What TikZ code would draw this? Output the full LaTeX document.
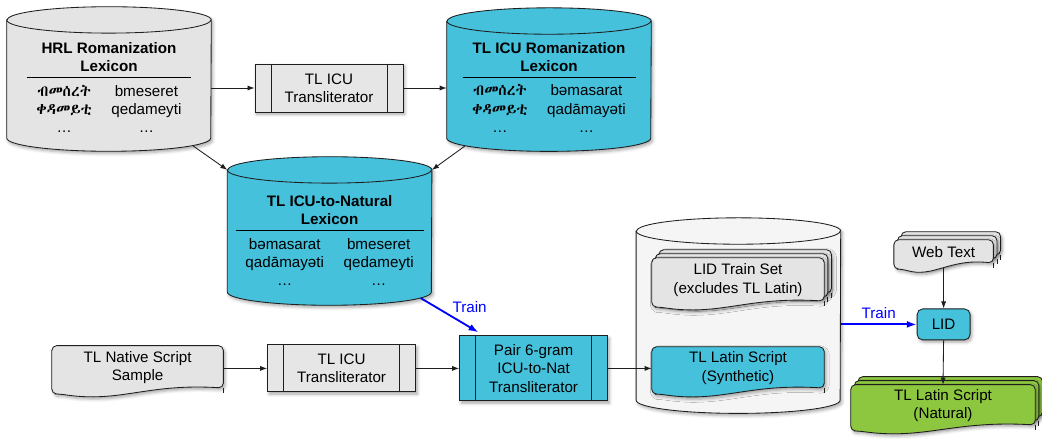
\documentclass[tikz,border=0pt]{standalone}
\usepackage{fontspec}
\setmainfont{Liberation Sans}
\IfFontExistsTF{Abyssinica SIL}{\newfontfamily\ethfont{Abyssinica SIL}}{%
  \IfFontExistsTF{FreeSerif}{\newfontfamily\ethfont{FreeSerif}}{\newfontfamily\ethfont{DejaVu Sans}}}
\usepackage{tikz}
\usetikzlibrary{arrows.meta,positioning,calc,backgrounds,shadows.blur}
\usepackage{xcolor}
\definecolor{icublue}{RGB}{70,193,220}
\definecolor{lexgray}{RGB}{228,228,228}
\definecolor{boxgray}{RGB}{230,230,230}
\definecolor{storegray}{RGB}{245,245,245}
\definecolor{natgreen}{RGB}{141,198,63}
\definecolor{linec}{RGB}{30,30,30}
\definecolor{trainblue}{RGB}{0,0,255}
\setlength{\tabcolsep}{7pt}
\tikzset{softshadow/.style={blur shadow={shadow xshift=1.2pt, shadow yshift=-1.6pt, shadow blur radius=2.2pt, shadow opacity=35}}}

% cylinder drawn round an empty node of width 5.1cm
\newcommand{\lexcyl}[2]{%
  \path[draw=linec, fill=#2, line width=0.6pt, softshadow]
    ([yshift=-3.3mm]#1.north west) -- ([yshift=3.3mm]#1.south west)
    arc[start angle=180, end angle=360, x radius=25.5mm, y radius=3.3mm]
    -- ([yshift=-3.3mm]#1.north east)
    arc[start angle=0, end angle=180, x radius=25.5mm, y radius=3.3mm] -- cycle;
  \draw[linec, line width=0.6pt] ([yshift=-3.3mm]#1.north west)
    arc[start angle=180, end angle=360, x radius=25.5mm, y radius=3.3mm];}

% document sheet with a wavy bottom, shifted by (#3,#4)
\newcommand{\docsheet}[4]{%
  \path[draw=linec, fill=#2, line width=0.6pt, softshadow, rounded corners=3.5pt]
    ([shift={(#3,#4+0.03)}]#1.south east)
    .. controls ($(#1.south east)!.45!(#1.south west)+(#3,#4+0.15)$)
       and ($(#1.south east)!.6!(#1.south west)+(#3,#4-0.35)$)
    .. ([shift={(#3+0.2,#4-0.12)}]#1.south west)
    -- ([shift={(#3,#4-0.12)}]#1.south west) -- ([shift={(#3,#4)}]#1.north west)
    -- ([shift={(#3,#4)}]#1.north east) -- cycle;
  \draw[linec, line width=0.6pt] ([shift={(#3,#4+0.03)}]#1.south east) -- ++(0,-0.13);}
\newcommand{\docstack}[2]{\docsheet{#1}{#2}{0.18}{0.2}\docsheet{#1}{#2}{0.09}{0.1}\docsheet{#1}{#2}{0}{0}}

\begin{document}
\begin{tikzpicture}[every node/.style={font=\fontsize{10.8}{13}\selectfont, text=black},
  cylspot/.style={minimum width=5.1cm, inner sep=0pt},
  docspot/.style={inner sep=0pt, align=center},
  procbox/.style={draw=linec, line width=0.6pt, fill=boxgray, align=center, inner sep=0pt,
    minimum width=3.7cm, minimum height=1.2cm, softshadow,
    path picture={\draw[linec, line width=0.6pt]
      ([xshift=4mm]path picture bounding box.north west) -- ([xshift=4mm]path picture bounding box.south west)
      ([xshift=-4mm]path picture bounding box.north east) -- ([xshift=-4mm]path picture bounding box.south east);}},
  conn/.style={draw=linec, line width=0.6pt, -{Latex[length=5pt, width=3.6pt]}},
  trainarrow/.style={draw=trainblue, line width=1.3pt, -{Latex[length=7pt, width=5pt]}}]
  \useasboundingbox (0,0) rectangle (26.05,-10.975);

  \node[cylspot, minimum height=3.6cm] (hrl) at (2.725,-1.975) {};
  \node[inner sep=0pt] (hrl-tab) at ([yshift=-2.6mm]hrl.center) {\begin{tabular}{cc}
    \multicolumn{2}{c}{\bfseries HRL Romanization}\\
    \multicolumn{2}{c}{\bfseries Lexicon}\\\hline
    \rule{0pt}{13pt}{\ethfont ብመሰረት} & bmeseret\\
    {\ethfont ቀዳመይቲ} & qedameyti\\
    \dots & \dots
  \end{tabular}};
  \node[procbox] (ticu1) at (8.225,-2.2) {TL ICU\\Transliterator};
  \node[cylspot, minimum height=3.575cm] (icurom) at (13.725,-1.99) {};
  \node[inner sep=0pt] (icurom-tab) at ([yshift=-2.4mm]icurom.center) {\begin{tabular}{cc}
    \multicolumn{2}{c}{\bfseries TL ICU Romanization}\\
    \multicolumn{2}{c}{\bfseries Lexicon}\\\hline
    \rule{0pt}{13pt}{\ethfont ብመሰረት} & bəmasarat\\
    {\ethfont ቀዳመይቲ} & qadāmayəti\\
    \dots & \dots
  \end{tabular}};
  \node[cylspot, minimum height=3.7cm] (icnat) at (8.24,-5.775) {};
  \node[inner sep=0pt] (icnat-tab) at ([yshift=-2.9mm]icnat.center) {\begin{tabular}{cc}
    \multicolumn{2}{c}{\bfseries TL ICU-to-Natural}\\
    \multicolumn{2}{c}{\bfseries Lexicon}\\\hline
    \rule{0pt}{13pt}bəmasarat & bmeseret\\
    qadāmayəti & qedameyti\\
    \dots & \dots
  \end{tabular}};

  \node[docspot, minimum width=4.275cm, minimum height=1.075cm] (sample) at (3.44,-9.185) {TL Native Script\\Sample};
  \node[procbox, minimum height=1.175cm] (ticu2) at (8.54,-9.21) {TL ICU\\Transliterator};
  \node[procbox, fill=icublue, minimum height=1.625cm] (pair) at (13.34,-9.21) {Pair 6-gram\\ICU-to-Nat\\Transliterator};

  \node[cylspot, minimum height=4.875cm] (store) at (18.46,-7.89) {};
  \node[docspot, minimum width=4.3cm, minimum height=1.1cm] (lidset) at (18.45,-7.0) {LID Train Set\\(excludes TL Latin)};
  \node[docspot, minimum width=4.3cm, minimum height=1.05cm] (synth) at (18.45,-9.2) {TL Latin Script\\(Synthetic)};

  \node[docspot, minimum width=2.475cm, minimum height=0.6cm] (web) at (23.59,-6.3) {Web Text};
  \node[draw=linec, line width=0.6pt, fill=icublue, rounded corners=4pt, minimum width=1.325cm, minimum height=0.775cm, softshadow] (lid) at (23.59,-8.11) {LID};
  \node[docspot, minimum width=4.6cm, minimum height=1.025cm] (natural) at (23.575,-10.135) {TL Latin Script\\(Natural)};

  \begin{scope}[on background layer]
    \lexcyl{hrl}{lexgray}
    \lexcyl{icurom}{icublue}
    \lexcyl{icnat}{icublue}
    \lexcyl{store}{storegray}
    \docsheet{sample}{lexgray}{0}{0}
    \docstack{lidset}{lexgray}
    \docsheet{synth}{icublue}{0}{0}
    \docstack{web}{lexgray}
    \docstack{natural}{natgreen}
  \end{scope}

  \draw[conn] (ticu1.west -| hrl.east) -- (ticu1.west);
  \draw[conn] (ticu1.east) -- (ticu1.east -| icurom.west);
  \draw[conn] ([xshift=-4.5mm, yshift=1.3mm]hrl.south east) -- ([yshift=-3.3mm]icnat.north west);
  \draw[conn] ([xshift=4.5mm, yshift=1.3mm]icurom.south west) -- ([yshift=-3.3mm]icnat.north east);
  \draw[trainarrow] ([xshift=-2.8mm, yshift=1.8mm]icnat.south east) -- node[midway, above right, inner sep=1.5pt, text=trainblue] {Train} ([xshift=4.8mm, yshift=0.8mm]pair.north west);
  \draw[conn] (ticu2.west -| sample.east) -- (ticu2.west);
  \draw[conn] (ticu2.east) -- (pair.west);
  \draw[conn] (pair.east) -- (pair.east -| synth.west);
  \draw[trainarrow] (lid.west -| store.east) -- node[above, text=trainblue] {Train} (lid.west);
  \draw[conn] ([yshift=-0.9mm]web.south) -- (lid.north);
  \draw[conn] (lid.south) -- (natural.north);
\end{tikzpicture}
\end{document}
